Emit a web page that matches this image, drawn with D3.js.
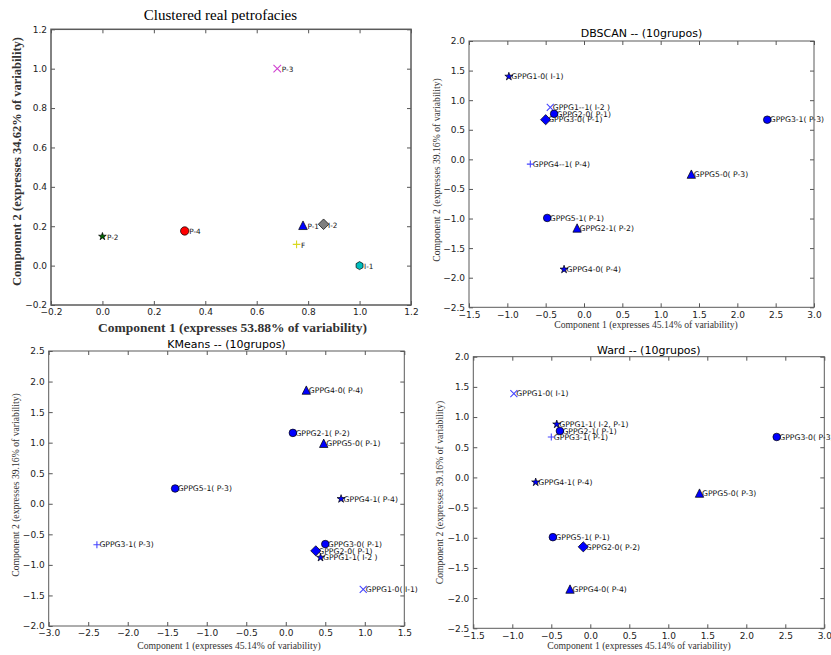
<!DOCTYPE html>
<html>
<head>
<meta charset="utf-8">
<script src="https://cdn.jsdelivr.net/npm/d3@7"></script>
<style>
  html, body { margin: 0; padding: 0; background: #fff; }
  svg { display: block; }
</style>
</head>
<body>
<svg id="chart" width="831" height="655"></svg>
<script>
// ---------------- DATA ----------------
// Panel 1: Clustered real petrofacies
const petroTitle = "Clustered real petrofacies";
const petroXLabel = "Component 1 (expresses 53.88% of variability)";
const petroYLabel = "Component 2 (expresses 34.62% of variability)";
const petroLabels = ["P-3", "P-2", "P-4", "P-1", "I-2", "F", "I-1"];
const petroX = [0.68, 0.0, 0.32, 0.78, 0.86, 0.755, 1.0];
const petroY = [1.0, 0.148, 0.176, 0.205, 0.21, 0.108, 0.0];
const petroSymbols = ["x", "star", "circle", "triangle", "diamond", "plus", "hexagon"];
const petroColors = ["#d040d0", "#006a00", "#ff0000", "#0000ff", "#7f7f7f", "#d8d820", "#00bfbf"];
const petroXTicks = [-0.2, 0.0, 0.2, 0.4, 0.6, 0.8, 1.0, 1.2];
const petroYTicks = [-0.2, 0.0, 0.2, 0.4, 0.6, 0.8, 1.0, 1.2];

// Shared axis titles for clustering panels
const clusterXLabel = "Component 1 (expresses 45.14% of variability)";
const clusterYLabel = "Component 2 (expresses 39.16% of variability)";

// Panel 2: DBSCAN
const dbTitle = "DBSCAN -- (10grupos)";
const dbLabels = ["GPPG1-0( I-1)", "GPPG1--1( I-2 )", "GPPG2-0( P-1)", "GPPG3-0( P-1)", "GPPG3-1( P-3)",
                  "GPPG4--1( P-4)", "GPPG5-0( P-3)", "GPPG5-1( P-1)", "GPPG2-1( P-2)", "GPPG4-0( P-4)"];
const dbX = [-0.98, -0.44, -0.39, -0.50, 2.39, -0.70, 1.40, -0.48, -0.09, -0.26];
const dbY = [1.40, 0.88, 0.77, 0.67, 0.67, -0.08, -0.25, -0.99, -1.16, -1.86];
const dbSymbols = ["star", "x", "circle", "diamond", "circle", "plus", "triangle", "circle", "triangle", "star"];
const dbXTicks = [-1.5, -1.0, -0.5, 0.0, 0.5, 1.0, 1.5, 2.0, 2.5, 3.0];
const dbYTicks = [-2.5, -2.0, -1.5, -1.0, -0.5, 0.0, 0.5, 1.0, 1.5, 2.0];

// Panel 3: KMeans
const kmTitle = "KMeans -- (10grupos)";
const kmLabels = ["GPPG4-0( P-4)", "GPPG2-1( P-2)", "GPPG5-0( P-1)", "GPPG5-1( P-3)", "GPPG4-1( P-4)",
                  "GPPG3-1( P-3)", "GPPG3-0( P-1)", "GPPG2-0( P-1)", "GPPG1-1( I-2 )", "GPPG1-0( I-1)"];
const kmX = [0.26, 0.09, 0.48, -1.40, 0.70, -2.39, 0.50, 0.38, 0.44, 0.98];
const kmY = [1.86, 1.16, 0.99, 0.25, 0.08, -0.67, -0.66, -0.77, -0.88, -1.40];
const kmSymbols = ["triangle", "circle", "triangle", "circle", "star", "plus", "circle", "diamond", "star", "x"];
const kmXTicks = [-3.0, -2.5, -2.0, -1.5, -1.0, -0.5, 0.0, 0.5, 1.0, 1.5];
const kmYTicks = [-2.0, -1.5, -1.0, -0.5, 0.0, 0.5, 1.0, 1.5, 2.0, 2.5];

// Panel 4: Ward
const wardTitle = "Ward -- (10grupos)";
const wardLabels = ["GPPG1-0( I-1)", "GPPG1-1( I-2, P-1)", "GPPG2-1( P-1)", "GPPG3-1( P-1)", "GPPG3-0( P-3)",
                    "GPPG4-1( P-4)", "GPPG5-0( P-3)", "GPPG5-1( P-1)", "GPPG2-0( P-2)", "GPPG4-0( P-4)"];
const wardX = [-0.98, -0.43, -0.39, -0.50, 2.39, -0.70, 1.40, -0.48, -0.09, -0.26];
const wardY = [1.39, 0.88, 0.77, 0.67, 0.67, -0.08, -0.26, -0.99, -1.15, -1.85];
const wardSymbols = ["x", "star", "circle", "plus", "circle", "star", "triangle", "circle", "diamond", "triangle"];
const wardXTicks = [-1.5, -1.0, -0.5, 0.0, 0.5, 1.0, 1.5, 2.0, 2.5, 3.0];
const wardYTicks = [-2.5, -2.0, -1.5, -1.0, -0.5, 0.0, 0.5, 1.0, 1.5, 2.0];

// ---------------- DRAWING ----------------
const svg = d3.select("#chart");
svg.append("rect").attr("width", 831).attr("height", 655).attr("fill", "#fff");

const SANS = "'DejaVu Sans', sans-serif";
const SERIF = "'Liberation Serif', 'Times New Roman', serif";
const fmt = d3.format(".1f");

function markerPath(kind, s) {
  switch (kind) {
    case "circle": return d3.symbol(d3.symbolCircle, Math.PI * s.r * s.r)();
    case "star": return d3.symbol(d3.symbolStar, s.star)();
    case "triangle": { const h = s.tri; return `M0,${-h}L${h},${h}L${-h},${h}Z`; }
    case "diamond": { const d = s.dia; return `M0,${-d}L${d},0L0,${d}L${-d},0Z`; }
    case "hexagon": {
      const r = s.hex; const pts = d3.range(6).map(k => {
        const a = -Math.PI / 2 + k * Math.PI / 3; return [r * Math.cos(a), r * Math.sin(a)];
      });
      return "M" + pts.map(p => p.join(",")).join("L") + "Z";
    }
    case "plus": { const c = s.cross; return `M${-c},0H${c}M0,${-c}V${c}`; }
    case "x": { const c = s.cross; return `M${-c},${-c}L${c},${c}M${-c},${c}L${c},${-c}`; }
  }
}

function drawPanel(p) {
  const g = svg.append("g");
  const x = d3.scaleLinear().domain(p.xDomain).range([p.box.x0, p.box.x1]);
  const y = d3.scaleLinear().domain(p.yDomain).range([p.box.y1, p.box.y0]);

  const styleAxis = (sel) => {
    sel.select(".domain").remove();
    sel.selectAll(".tick line").attr("stroke", "#555").attr("stroke-width", 1);
    sel.selectAll(".tick text").attr("fill", "#222").style("font-family", SANS).style("font-size", p.tickSize + "px");
  };
  g.append("g").attr("transform", `translate(0,${p.box.y1})`)
    .call(d3.axisBottom(x).tickValues(p.xTicks).tickFormat(fmt).tickSizeInner(-4).tickSizeOuter(0).tickPadding(4))
    .call(styleAxis);
  g.append("g").attr("transform", `translate(${p.box.x0},0)`)
    .call(d3.axisLeft(y).tickValues(p.yTicks).tickFormat(fmt).tickSizeInner(-4).tickSizeOuter(0).tickPadding(4))
    .call(styleAxis);
  g.append("g").attr("transform", `translate(0,${p.box.y0})`)
    .call(d3.axisTop(x).tickValues(p.xTicks).tickFormat("").tickSizeInner(-4).tickSizeOuter(0))
    .call(styleAxis);
  g.append("g").attr("transform", `translate(${p.box.x1},0)`)
    .call(d3.axisRight(y).tickValues(p.yTicks).tickFormat("").tickSizeInner(-4).tickSizeOuter(0))
    .call(styleAxis);

  g.append("rect")
    .attr("x", p.box.x0).attr("y", p.box.y0)
    .attr("width", p.box.x1 - p.box.x0).attr("height", p.box.y1 - p.box.y0)
    .attr("fill", "none").attr("stroke", "#5a5a5a").attr("stroke-width", p.frameWidth);

  const idx = d3.range(p.labels.length);
  g.selectAll("text.ann").data(idx).join("text")
    .attr("class", "ann")
    .attr("x", i => x(p.xs[i]) + p.annDx)
    .attr("y", i => y(p.ys[i]))
    .attr("dy", p.annDy)
    .attr("fill", "#111")
    .style("font-family", SANS).style("font-size", p.annSize + "px")
    .text(i => p.labels[i]);

  g.selectAll("path.mk").data(idx).join("path")
    .attr("class", "mk")
    .attr("transform", i => `translate(${x(p.xs[i])},${y(p.ys[i])})`)
    .attr("d", i => markerPath(p.symbols[i], p.sizes))
    .each(function (i) {
      const kind = p.symbols[i];
      const el = d3.select(this);
      if (kind === "x" || kind === "plus") {
        const col = p.colors ? p.colors[i] : "#4646ff";
        el.attr("fill", "none").attr("stroke", col).attr("stroke-width", 1.1);
      } else {
        const col = p.colors ? p.colors[i] : "#0000ff";
        el.attr("fill", col).attr("stroke", "#000").attr("stroke-width", 0.7);
      }
    });

  g.append("text")
    .attr("x", p.titlePos[0]).attr("y", p.titlePos[1])
    .attr("text-anchor", "middle").attr("fill", "#000")
    .style("font-family", p.titleFont).style("font-size", p.titleSize + "px")
    .text(p.title);

  g.append("text")
    .attr("x", p.xLabelPos[0]).attr("y", p.xLabelPos[1])
    .attr("text-anchor", "middle").attr("fill", "#333")
    .style("font-family", SERIF).style("font-size", p.xLabelSize + "px")
    .style("font-weight", p.labelWeight)
    .text(p.xLabel);

  g.append("text")
    .attr("transform", `translate(${p.yLabelPos[0]},${p.yLabelPos[1]}) rotate(-90)`)
    .attr("text-anchor", "middle").attr("dy", "0.35em").attr("fill", "#333")
    .style("font-family", SERIF).style("font-size", p.yLabelSize + "px")
    .style("font-weight", p.labelWeight)
    .text(p.yLabel);
}

const smallSizes = { r: 3.8, star: 20, tri: 4.2, dia: 5.1, hex: 4, cross: 3.5 };

drawPanel({
  box: { x0: 51, x1: 411, y0: 29.3, y1: 305 },
  xDomain: [-0.2, 1.2], yDomain: [-0.2, 1.2],
  xTicks: petroXTicks, yTicks: petroYTicks, tickSize: 9,
  labels: petroLabels, xs: petroX, ys: petroY, symbols: petroSymbols, colors: petroColors,
  sizes: { r: 4.2, star: 18, tri: 4.3, dia: 5.3, hex: 4, cross: 3.8 },
  annDx: 4.5, annDy: "0.45em", annSize: 7.3,
  title: petroTitle, titlePos: [220.5, 19.5], titleFont: SERIF, titleSize: 15,
  xLabel: petroXLabel, xLabelPos: [232.5, 331.5], xLabelSize: 13.5,
  yLabel: petroYLabel, yLabelPos: [17, 161.5], yLabelSize: 12.5,
  labelWeight: "bold", frameWidth: 1.5
});

drawPanel({
  box: { x0: 469, x1: 814, y0: 41, y1: 307.3 },
  xDomain: [-1.5, 3.0], yDomain: [-2.5, 2.0],
  xTicks: dbXTicks, yTicks: dbYTicks, tickSize: 9,
  labels: dbLabels, xs: dbX, ys: dbY, symbols: dbSymbols, colors: null,
  sizes: smallSizes,
  annDx: 2.5, annDy: "0.36em", annSize: 7.7,
  title: dbTitle, titlePos: [641.5, 37], titleFont: SANS, titleSize: 11,
  xLabel: clusterXLabel, xLabelPos: [646, 327.5], xLabelSize: 9.7,
  yLabel: clusterYLabel, yLabelPos: [437, 170], yLabelSize: 9.7,
  labelWeight: "normal", frameWidth: 1
});

drawPanel({
  box: { x0: 48.7, x1: 404.3, y0: 351, y1: 626 },
  xDomain: [-3.0, 1.5], yDomain: [-2.0, 2.5],
  xTicks: kmXTicks, yTicks: kmYTicks, tickSize: 9,
  labels: kmLabels, xs: kmX, ys: kmY, symbols: kmSymbols, colors: null,
  sizes: smallSizes,
  annDx: 2.5, annDy: "0.36em", annSize: 7.7,
  title: kmTitle, titlePos: [226.5, 347.5], titleFont: SANS, titleSize: 11,
  xLabel: clusterXLabel, xLabelPos: [229, 648.5], xLabelSize: 9.7,
  yLabel: clusterYLabel, yLabelPos: [16, 485], yLabelSize: 9.7,
  labelWeight: "normal", frameWidth: 1
});

drawPanel({
  box: { x0: 473.3, x1: 824.3, y0: 356.7, y1: 628.3 },
  xDomain: [-1.5, 3.0], yDomain: [-2.5, 2.0],
  xTicks: wardXTicks, yTicks: wardYTicks, tickSize: 9,
  labels: wardLabels, xs: wardX, ys: wardY, symbols: wardSymbols, colors: null,
  sizes: smallSizes,
  annDx: 2.5, annDy: "0.36em", annSize: 7.7,
  title: wardTitle, titlePos: [648.8, 353.5], titleFont: SANS, titleSize: 11,
  xLabel: clusterXLabel, xLabelPos: [639, 649], xLabelSize: 9.7,
  yLabel: clusterYLabel, yLabelPos: [440, 492.5], yLabelSize: 9.7,
  labelWeight: "normal", frameWidth: 1
});
</script>
</body>
</html>
